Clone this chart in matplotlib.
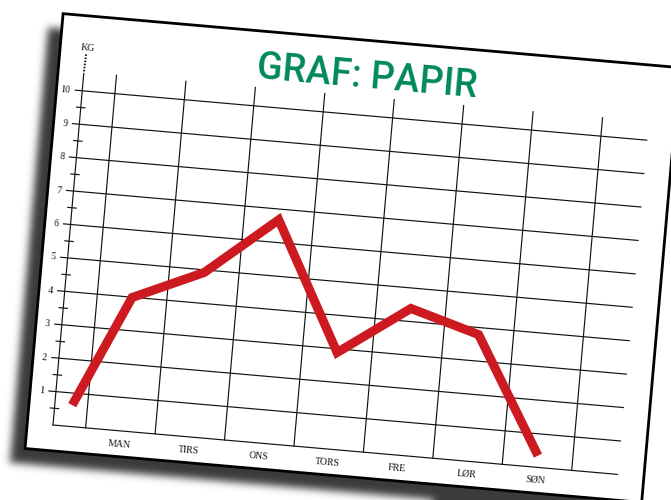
import numpy as np
import matplotlib
matplotlib.use('Agg')
import matplotlib.pyplot as plt
from matplotlib.transforms import Affine2D
from matplotlib.path import Path
from matplotlib.patches import Polygon

# ---------------- data ----------------
days = ['MAN', 'TIRS', 'ONS', 'TORS', 'FRE', 'LØR', 'SØN']
day_pos = [1, 2, 3, 4, 5, 6, 7]
kg = [3.99, 4.92, 6.68, 2.89, 4.39, 3.79, 0.35]
start_pos = 0.28
start_kg = 0.64
y_ticks = [1, 2, 3, 4, 5, 6, 7, 8, 9, 10]
y_minor = [0.5, 1.5, 2.5, 3.5, 4.5, 5.5, 6.5, 7.5, 8.5, 9.5]
x_grid = [0.5, 1.5, 2.5, 3.5, 4.5, 5.5, 6.5, 7.5]
title = 'GRAF: PAPIR'
unit = 'KG'

# ---------------- layout ----------------
W, H = 671, 500
fig = plt.figure(figsize=(W / 100, H / 100), dpi=100)
fig.patch.set_facecolor('white')
XU, YU = 69.7, 33.55          # pixels per unit on the (unrotated) sheet
ox, oy = 53.0, 75.0           # chart origin in figure pixels
x0 = 0.03                     # origin x in data units
xmin, xmax, ymin, ymax = 0, 9, 0, 12
left = ox - (x0 - xmin) * XU
ax = fig.add_axes([left / W, oy / H, (xmax - xmin) * XU / W, (ymax - ymin) * YU / H])
ax.set_xlim(xmin, xmax)
ax.set_ylim(ymin, ymax)
ax.axis('off')
ax.patch.set_visible(False)
ax.set_zorder(2)
ANG = -5.0
T = ax.transData + Affine2D().rotate_deg_around(ox, oy, ANG)

# sheet
px0, px1, py0, py1 = -0.34, 8.54, -0.77, 12.24
sheet = [(px0, py0), (px1, py0), (px1, py1), (px0, py1)]

# blurred shadow
corners = T.transform(np.array(sheet)) + np.array([-15.0, -14.0])
gx, gy = np.meshgrid(np.arange(W) + 0.5, np.arange(H) + 0.5)
mask = Path(corners).contains_points(np.c_[gx.ravel(), gy.ravel()]).reshape(H, W).astype(float)
pad = 20
mask = np.pad(mask, pad, mode='edge')
s = 4.0
r = int(3 * s)
k = np.exp(-0.5 * (np.arange(-r, r + 1) / s) ** 2)
k /= k.sum()
mask = np.apply_along_axis(lambda m: np.convolve(m, k, mode='same'), 0, mask)
mask = np.apply_along_axis(lambda m: np.convolve(m, k, mode='same'), 1, mask)
mask = mask[pad:-pad, pad:-pad]
rgba = np.zeros((H, W, 4))
rgba[..., :3] = 0.23
rgba[..., 3] = np.clip(mask, 0, 1)
fig.figimage(rgba, xo=0, yo=0, origin='lower', zorder=1)

ax.add_patch(Polygon(sheet, closed=True, facecolor='white', edgecolor='black',
                     lw=2.0, transform=T, clip_on=False, zorder=1, joinstyle='miter'))

kw = dict(transform=T, clip_on=False)
lc = '#111111'
gl = 0.85
# horizontal grid lines
for y in y_ticks:
    ax.plot([-0.07, 8.16], [y, y], color=lc, lw=gl, zorder=2, **kw)
ax.plot([x0, 8.16], [0, 0], color=lc, lw=gl, zorder=2, **kw)
# vertical grid lines
for gxp in x_grid:
    ax.plot([gxp, gxp], [0, 10.55], color=lc, lw=gl, zorder=2, **kw)
# y axis
ax.plot([x0, x0], [0, 10.52], color=lc, lw=gl, zorder=2, **kw)
ax.plot([x0, x0 + 0.01], [10.58, 11.1], color=lc, lw=1.4, ls=(0, (0.8, 0.8)), zorder=2, **kw)
for y in y_minor:
    ax.plot([x0 - 0.06, x0 + 0.06], [y, y], color=lc, lw=gl, zorder=2, **kw)

serif = ['Liberation Serif', 'DejaVu Serif']
tc = '#111111'
for y in y_ticks:
    ax.text(-0.14, y - 0.09, str(y), ha='right', va='baseline', fontsize=7,
            family=serif, rotation=ANG, rotation_mode='anchor', color=tc, **kw)
for d, name in zip(day_pos, days):
    ax.text(d, -0.47, name, ha='center', va='baseline', fontsize=7,
            family=serif, rotation=ANG, rotation_mode='anchor', color=tc, **kw)
ax.text(x0 + 0.02, 11.22, unit, ha='center', va='baseline', fontsize=7,
        family=serif, rotation=ANG, rotation_mode='anchor', color=tc, **kw)

# title
ax.text(4.08, 10.84, title, ha='center', va='baseline', fontsize=27, family='Roboto',
        weight='medium', color='#00895A', rotation=ANG, rotation_mode='anchor', **kw)

# data line
ax.plot([start_pos] + day_pos, [start_kg] + kg, color='#CD1A20', lw=6.5,
        solid_joinstyle='miter', solid_capstyle='butt', zorder=5, **kw)

fig.savefig('out.png', dpi=100, facecolor='white')
